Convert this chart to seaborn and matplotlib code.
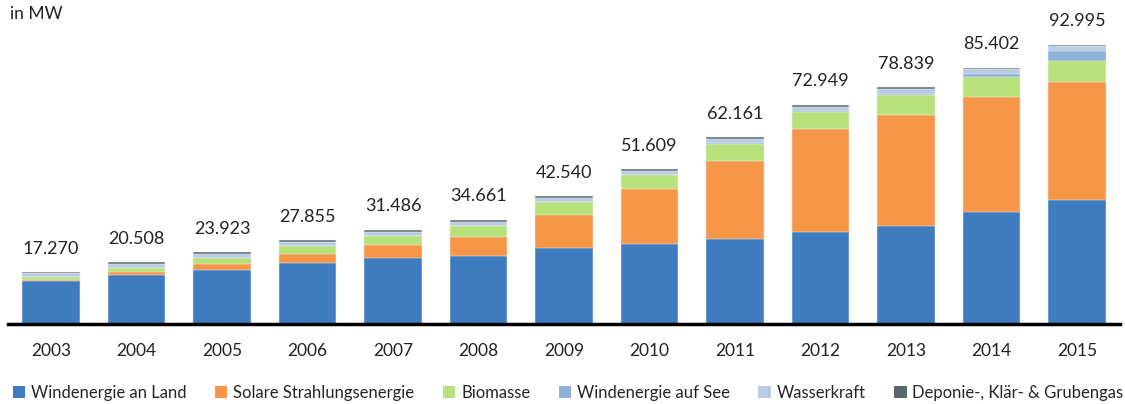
import numpy as np
import pandas as pd
import matplotlib
matplotlib.use("Agg")
import matplotlib.pyplot as plt
from matplotlib.patches import Patch
import seaborn as sns

# values (MW)
years = ['2003', '2004', '2005', '2006', '2007', '2008', '2009',
         '2010', '2011', '2012', '2013', '2014', '2015']
wind_land = [14200, 16300, 18000, 20300, 22000, 22700, 25400,
             26800, 28400, 30600, 32800, 37400, 41200]
solar = [350, 1000, 2000, 3000, 4200, 6200, 10800,
         18100, 26000, 34300, 36900, 38100, 39300]
biomasse = [1100, 1300, 2000, 2700, 3200, 3900, 4430,
            4700, 5700, 5900, 6600, 6900, 7100]
wind_see = [0, 0, 0, 0, 0, 0, 35, 80, 190, 270, 500, 1000, 3300]
wasser = [1200, 1300, 1300, 1300, 1400, 1300, 1400,
          1400, 1400, 1400, 1500, 1500, 1600]
gas = [420, 608, 623, 555, 686, 561, 475, 529, 471, 479, 539, 502, 495]
totals = [17270, 20508, 23923, 27855, 31486, 34661, 42540,
          51609, 62161, 72949, 78839, 85402, 92995]
total_labels = ['17.270', '20.508', '23.923', '27.855', '31.486', '34.661', '42.540',
                '51.609', '62.161', '72.949', '78.839', '85.402', '92.995']

series = ['Windenergie an Land', 'Solare Strahlungsenergie', 'Biomasse',
          'Windenergie auf See', 'Wasserkraft', 'Deponie-, Klär- & Grubengas']
colors = ['#3F7CBF', '#F79646', '#B7E27B', '#8DB1DA', '#B8CCE4', '#59686F']

df = pd.DataFrame({'Jahr': years, series[0]: wind_land, series[1]: solar,
                   series[2]: biomasse, series[3]: wind_see,
                   series[4]: wasser, series[5]: gas})
cum = df[series].cumsum(axis=1)

sns.set_style('white')
plt.rcParams['font.family'] = ['Lato', 'DejaVu Sans']

fig = plt.figure(figsize=(11.25, 4.04), dpi=100)
ax = fig.add_axes([0.0073, 0.198, 0.988, 0.777])

# stacked bars: draw cumulative layers from top to bottom
for name, col in reversed(list(zip(series, colors))):
    sns.barplot(x=df['Jahr'], y=cum[name], order=years, color=col, width=0.67,
                edgecolor='#f4f4f4', linewidth=0.35, saturation=1, ax=ax)

for i, (t, lab) in enumerate(zip(totals, total_labels)):
    ax.annotate(lab, (i, t), xytext=(0, 17), textcoords='offset points',
                ha='center', va='center', fontsize=13, color='#222222')

ax.set_xlim(-0.5, 12.5)
ax.set_ylim(0, 104600)
ax.set_yticks([])
ax.set_xlabel('')
ax.set_ylabel('')
for s in ['top', 'right', 'left']:
    ax.spines[s].set_visible(False)
ax.spines['bottom'].set_linewidth(2.5)
ax.spines['bottom'].set_color('black')
ax.tick_params(axis='x', length=0, pad=14, labelsize=12.5, labelcolor='#222222')

fig.text(0.009, 0.965, 'in MW', fontsize=12.5, va='center', ha='left', color='#222222')

handles = [Patch(facecolor=c, edgecolor='none') for c in colors]
fig.legend(handles, series, loc='center', bbox_to_anchor=(0.505, 0.027), ncol=6,
           frameon=False, fontsize=12, handlelength=0.75, handleheight=0.75,
           handletextpad=0.35, columnspacing=1.7, borderaxespad=0,
           borderpad=0)

fig.savefig('out.png', dpi=100)
